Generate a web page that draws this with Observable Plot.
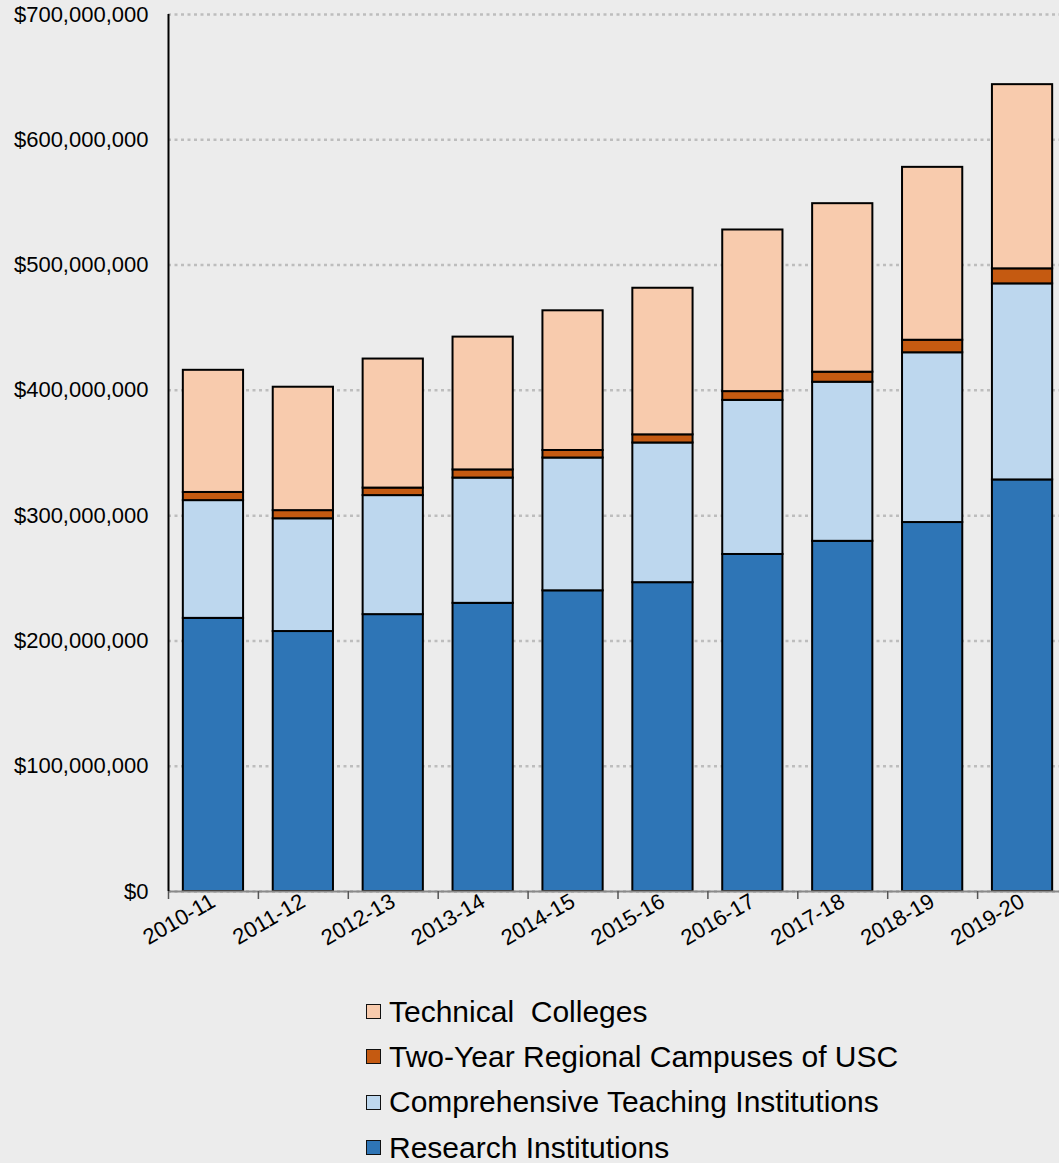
<!DOCTYPE html>
<html>
<head>
<meta charset="utf-8">
<script src="https://cdn.jsdelivr.net/npm/d3@7"></script>
<script src="https://cdn.jsdelivr.net/npm/@observablehq/plot@0.6"></script>
<style>
  html, body { margin: 0; padding: 0; background: #ececec; }
  body { width: 1059px; height: 1163px; overflow: hidden; font-family: "Liberation Sans", Arial, sans-serif; }
  #chart svg { display: block; }
  #legend { padding-left: 366px; margin-top: 14px; }
  .row { display: flex; align-items: center; height: 45.3px; font-size: 30px; color: #000; }
  .sw { width: 13px; height: 13px; border: 1.5px solid #111; margin-right: 8px; flex: none; }
</style>
</head>
<body>
<div id="chart"></div>
<div id="legend"></div>
<script>
const categories = ["2010-11","2011-12","2012-13","2013-14","2014-15","2015-16","2016-17","2017-18","2018-19","2019-20"];
const seriesNames = ["Research Institutions","Comprehensive Teaching Institutions","Two-Year Regional Campuses of USC","Technical  Colleges"];
const seriesColors = ["#2e75b6","#bdd7ee","#c55a11","#f8cbad"];
// values in millions of dollars
const research      = [218, 207.5, 221, 230, 240, 246.5, 269, 279.5, 294.5, 328.5];
const comprehensive = [94, 90, 95, 100, 106, 111.5, 123, 127, 135.5, 156.5];
const twoYear       = [6.5, 6.5, 6, 6.5, 6, 6.5, 7, 8, 10, 12];
const technical     = [97.5, 98.5, 103, 106, 111.5, 117, 129, 134.5, 138, 147];
const yTicks = [0, 100e6, 200e6, 300e6, 400e6, 500e6, 600e6, 700e6];

const seriesValues = [research, comprehensive, twoYear, technical];
const data = [];
categories.forEach((c, i) => {
  seriesNames.forEach((s, j) => {
    data.push({year: c, series: s, value: seriesValues[j][i] * 1e6});
  });
});

const W = 1059, H = 975, ML = 168, MR = -8, MT = 14, MB = 84;
const step = (W - ML - MR) / categories.length;
const fmt = d3.format(",");

const chart = Plot.plot({
  width: W, height: H,
  marginLeft: ML, marginRight: MR, marginTop: MT, marginBottom: MB,
  style: {background: "transparent", fontFamily: "'Liberation Sans', Arial, sans-serif", overflow: "visible"},
  x: {domain: categories, paddingInner: 0.33, paddingOuter: 0.165, align: 0.5, round: false, label: null},
  y: {domain: [0, 700e6], label: null},
  color: {domain: seriesNames, range: seriesColors},
  marks: [
    Plot.gridY(yTicks, {stroke: "#bdbdbd", strokeOpacity: 1, strokeWidth: 2.5, strokeDasharray: "3,3.5"}),
    Plot.barY(data, {x: "year", y: "value", fill: "series", stroke: "#000", strokeWidth: 2, order: seriesNames}),
    Plot.ruleY([0], {stroke: "#8a8a8a", strokeWidth: 2}),
    Plot.ruleX([categories[0]], {x: d => d, y1: 0, y2: 700e6, dx: -step / 2, stroke: "#000", strokeWidth: 2}),
    Plot.axisY(yTicks, {tickSize: 0, tickPadding: 20, fontSize: 22, fill: "#000", tickFormat: d => "$" + fmt(d), label: null}),
    Plot.axisX({tickSize: 8, tickFormat: () => "", dx: -step / 2, stroke: "#555", strokeWidth: 1.5, label: null}),
    Plot.axisX({tickSize: 0, tickRotate: -30, tickPadding: 8, fontSize: 22, fill: "#000", dx: 0, label: null})
  ]
});
document.getElementById("chart").appendChild(chart);

const legend = document.getElementById("legend");
const legendOrder = [3, 2, 1, 0];
legendOrder.forEach(j => {
  const row = document.createElement("div");
  row.className = "row";
  const sw = document.createElement("div");
  sw.className = "sw";
  sw.style.background = seriesColors[j];
  const t = document.createElement("span");
  t.style.whiteSpace = "pre";
  t.textContent = seriesNames[j];
  row.appendChild(sw);
  row.appendChild(t);
  legend.appendChild(row);
});
</script>
</body>
</html>
